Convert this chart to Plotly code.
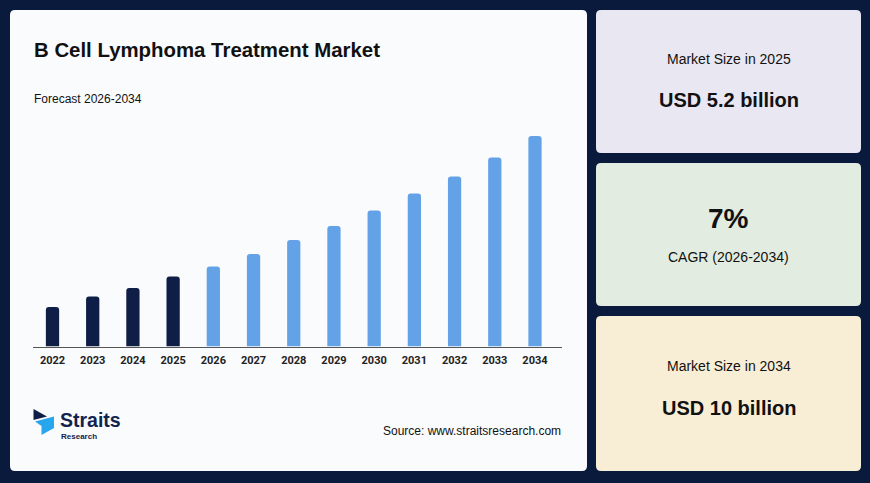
import plotly.graph_objects as go

W, H = 870, 483

# ---- data ----
years = ['2022', '2023', '2024', '2025', '2026', '2027', '2028',
         '2029', '2030', '2031', '2032', '2033', '2034']
values = [39.5, 50, 58.5, 70, 80, 92.5, 106.5, 120.5, 136, 153, 170, 189, 210.5]
historical = ['2022', '2023', '2024', '2025']
title_text = 'B Cell Lymphoma Treatment Market'
subtitle_text = 'Forecast 2026-2034'
source_text = 'Source: www.straitsresearch.com'
card_labels = ['Market Size in 2025', 'CAGR (2026-2034)', 'Market Size in 2034']
card_values = ['USD 5.2 billion', '7%', 'USD 10 billion']

DARK = '#0f1e46'
LIGHT = '#64a2e8'
BG = '#0a1a3c'
FONT = 'Liberation Sans, Arial, sans-serif'

colors = [DARK if y in historical else LIGHT for y in years]


def px(x):
    return x / W


def py(y):
    return 1 - y / H


def rrect(x0, y0, x1, y1, r):
    def P(x, y):
        return f'{px(x):.5f},{py(y):.5f}'
    return (f'M {P(x0 + r, y0)} L {P(x1 - r, y0)} Q {P(x1, y0)} {P(x1, y0 + r)} '
            f'L {P(x1, y1 - r)} Q {P(x1, y1)} {P(x1 - r, y1)} '
            f'L {P(x0 + r, y1)} Q {P(x0, y1)} {P(x0, y1 - r)} '
            f'L {P(x0, y0 + r)} Q {P(x0, y0)} {P(x0 + r, y0)} Z')


def poly(points):
    s = 'M ' + ' L '.join(f'{px(x):.5f},{py(y):.5f}' for x, y in points) + ' Z'
    return s


fig = go.Figure()
fig.add_trace(go.Bar(
    x=years, y=values, marker=dict(color=colors, line=dict(width=0)),
    width=0.33, hoverinfo='skip', showlegend=False,
))

shapes = []
# panels
shapes.append(dict(type='path', path=rrect(10, 10, 587, 471, 5), xref='paper', yref='paper',
                   fillcolor='#fafbfd', line=dict(width=0), layer='below'))
panel_fills = ['#e9e7f1', '#e3ece0', '#f8eed6']
panel_boxes = [(596, 10, 861, 153), (596, 163, 861, 306), (596, 316, 861, 471)]
for (x0, y0, x1, y1), fc in zip(panel_boxes, panel_fills):
    shapes.append(dict(type='path', path=rrect(x0, y0, x1, y1, 5), xref='paper', yref='paper',
                       fillcolor=fc, line=dict(width=0), layer='below'))

# logo
shapes.append(dict(type='path', path=poly([(33.5, 409), (47, 416.5), (33.5, 420)]),
                   xref='paper', yref='paper', fillcolor='#0f1e46', line=dict(width=0)))
shapes.append(dict(type='path', path=poly([(35, 421.5), (54, 416.5), (54, 428), (41.5, 435), (41.5, 426)]),
                   xref='paper', yref='paper', fillcolor='#27a6ee', line=dict(width=0)))

annotations = []


def txt(x, y, text, size, bold=False, color='#111111', xanchor='left', family=FONT):
    annotations.append(dict(
        x=px(x), y=py(y), xref='paper', yref='paper', showarrow=False,
        text=f'<b>{text}</b>' if bold else text,
        xanchor=xanchor, yanchor='middle',
        font=dict(size=size, color=color, family=family),
    ))


txt(32, 50, title_text, 20.4, bold=True)
txt(32, 99, subtitle_text, 12)
txt(563, 431, source_text, 12, xanchor='right')
txt(58, 420, 'Straits', 19.5, bold=True, color='#13234f')
txt(59, 436, 'Research', 8, bold=True, color='#13234f')

cx = (596 + 861) / 2
txt(cx, 59.5, card_labels[0], 14, xanchor='center')
txt(cx, 100, card_values[0], 20, bold=True, xanchor='center')
txt(cx, 218, card_values[1], 28, bold=True, xanchor='center')
txt(cx, 257, card_labels[1], 14, xanchor='center')
txt(cx, 366, card_labels[2], 14, xanchor='center')
txt(cx, 408, card_values[2], 20, bold=True, xanchor='center')

x_left, x_right = 33.3, 561.7
step = 40.2
base_y, top_y = 346.5, 96.5

fig.update_layout(
    width=W, height=H,
    margin=dict(l=0, r=0, t=0, b=0),
    paper_bgcolor=BG, plot_bgcolor='rgba(0,0,0,0)',
    shapes=shapes, annotations=annotations,
    bargap=0.5,
    barcornerradius=3,
    xaxis=dict(
        domain=[px(x_left), px(x_right)],
        type='category',
        range=[-(52.5 - x_left) / step, 12 + (x_right - 535) / step],
        showline=True, linecolor='#555555', linewidth=1,
        showgrid=False, zeroline=False, ticks='',
        tickfont=dict(size=11, color='#222222', family='Roboto, Arial, sans-serif', weight='bold'),
        ticklabelstandoff=3,
        fixedrange=True,
    ),
    yaxis=dict(
        domain=[py(base_y), py(top_y)],
        range=[0, base_y - top_y],
        visible=False, showgrid=False, zeroline=False,
        fixedrange=True,
    ),
)

fig.write_html('out.html')
